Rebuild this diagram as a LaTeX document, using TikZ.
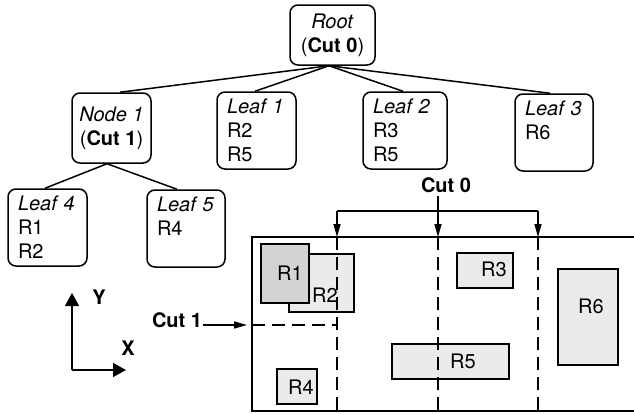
\documentclass[tikz,border=0pt]{standalone}
\usepackage{fontspec}
\setmainfont{TeX Gyre Heros}
\usetikzlibrary{arrows.meta}
\definecolor{darkfill}{HTML}{D3D3D3}
\definecolor{lightfill}{HTML}{EBEBEB}
\begin{document}
\begin{tikzpicture}[x=1pt,y=-1pt,
  font=\fontsize{20}{24}\selectfont,
  treebox/.style={draw, line width=1.5pt, rounded corners=8pt, inner ysep=3pt},
  leafbox/.style={treebox, inner xsep=10pt, align=left, text width=#1, minimum height=77pt},
  innerbox/.style={treebox, inner xsep=0pt, align=center},
  edge/.style={line width=1.5pt},
  region/.style={line width=1.5pt},
  rect/.style={draw, line width=1.3pt},
  cutline/.style={line width=1.4pt, dash pattern=on 13pt off 7pt},
  cutarrow/.style={line width=1.5pt, -{Triangle[width=7pt,length=13pt]}},
  axis/.style={line width=1.5pt, -{Triangle[width=14pt,length=13pt]}},
  lbl/.style={inner sep=0pt}
]
\useasboundingbox (0,0) rectangle (634,413);

% tree
\node[innerbox, minimum width=85pt, minimum height=60pt] (root) at (332.5,35) {\textit{Root}\\(\textbf{Cut 0})};
\node[innerbox, minimum width=79pt, minimum height=70pt] (node1) at (111.5,128) {\textit{Node 1}\\(\textbf{Cut 1})};
\node[leafbox=59pt] (leaf1) at (256.5,130.5) {\textit{Leaf 1}\\R2\\R5};
\node[leafbox=64pt] (leaf2) at (405,130.5) {\textit{Leaf 2}\\R3\\R5};
\node[leafbox=58pt] (leaf3) at (554,132.5) {\textit{Leaf 3}\\R6\\~};
\node[leafbox=59pt] (leaf4) at (47.5,227.5) {\textit{Leaf 4}\\R1\\R2};
\node[leafbox=58pt] (leaf5) at (186,228.5) {\textit{Leaf 5}\\R4\\~};

\draw[edge] ([xshift=-3.5pt]root.south) -- ([xshift=8.5pt]node1.north);
\draw[edge] ([xshift=-3.5pt]root.south) -- ([xshift=-1.5pt]leaf1.north);
\draw[edge] ([xshift=-3.5pt]root.south) -- ([xshift=-2pt]leaf2.north);
\draw[edge] ([xshift=-3.5pt]root.south) -- ([xshift=-4pt]leaf3.north);
\draw[edge] ([xshift=-4.5pt]node1.south) -- ([xshift=-2.5pt]leaf4.north);
\draw[edge] ([xshift=-4.5pt]node1.south) -- ([xshift=-9pt]leaf5.north);

% axes
\coordinate (origin) at (72,370);
\coordinate (ytip) at (72,293);
\coordinate (xtip) at (126,370);
\draw[axis] (origin) -- (ytip);
\draw[axis] (origin) -- (xtip);
\node[lbl] (ylab) at (99,297) {\textbf{Y}};
\node[lbl] (xlab) at (128,348) {\textbf{X}};

% region rectangles
\draw[rect, fill=lightfill] (289,254) rectangle (354,312);
\draw[rect, fill=darkfill] (261,244) rectangle (309,303);
\draw[rect, fill=lightfill] (457,253) rectangle (513,288);
\draw[rect, fill=lightfill] (392,344) rectangle (509,379);
\draw[rect, fill=lightfill] (558,269) rectangle (618,365);
\draw[rect, fill=lightfill] (277,369) rectangle (317,404);
\node[lbl] (r1) at (290,273) {R1};
\node[lbl] (r2) at (325,295) {R2};
\node[lbl] (r3) at (494,269) {R3};
\node[lbl] (r4) at (301,387) {R4};
\node[lbl] (r5) at (463,361) {R5};
\node[lbl] (r6) at (591,306) {R6};

% region outline
\draw[region] (634,237) -- (252,237) -- (252,411) -- (634,411);

% cut lines
\draw[cutline] (337,237) -- (337,411);
\draw[cutline] (438,237) -- (438,411);
\draw[cutline] (538,237) -- (538,411);
\draw[cutline] (252,325) -- (337,325);

% cut 0 label and arrows
\node[lbl] (cut0) at (446,185) {\textbf{Cut 0}};
\coordinate (c0start) at (438,196);
\coordinate (c0left) at (337,211);
\coordinate (c0right) at (538,211);
\draw[edge] (c0left) -- (c0right);
\draw[cutarrow] (c0start) -- (438,237);
\draw[cutarrow] (c0left) -- (337,237);
\draw[cutarrow] (c0right) -- (538,237);

% cut 1 label and arrow
\node[lbl] (cut1) at (177,320) {\textbf{Cut 1}};
\coordinate (c1tip) at (247,325);
\draw[line width=1.5pt, -{Triangle[width=7pt,length=13pt]}] (203,325) -- (c1tip);
\end{tikzpicture}
\end{document}
